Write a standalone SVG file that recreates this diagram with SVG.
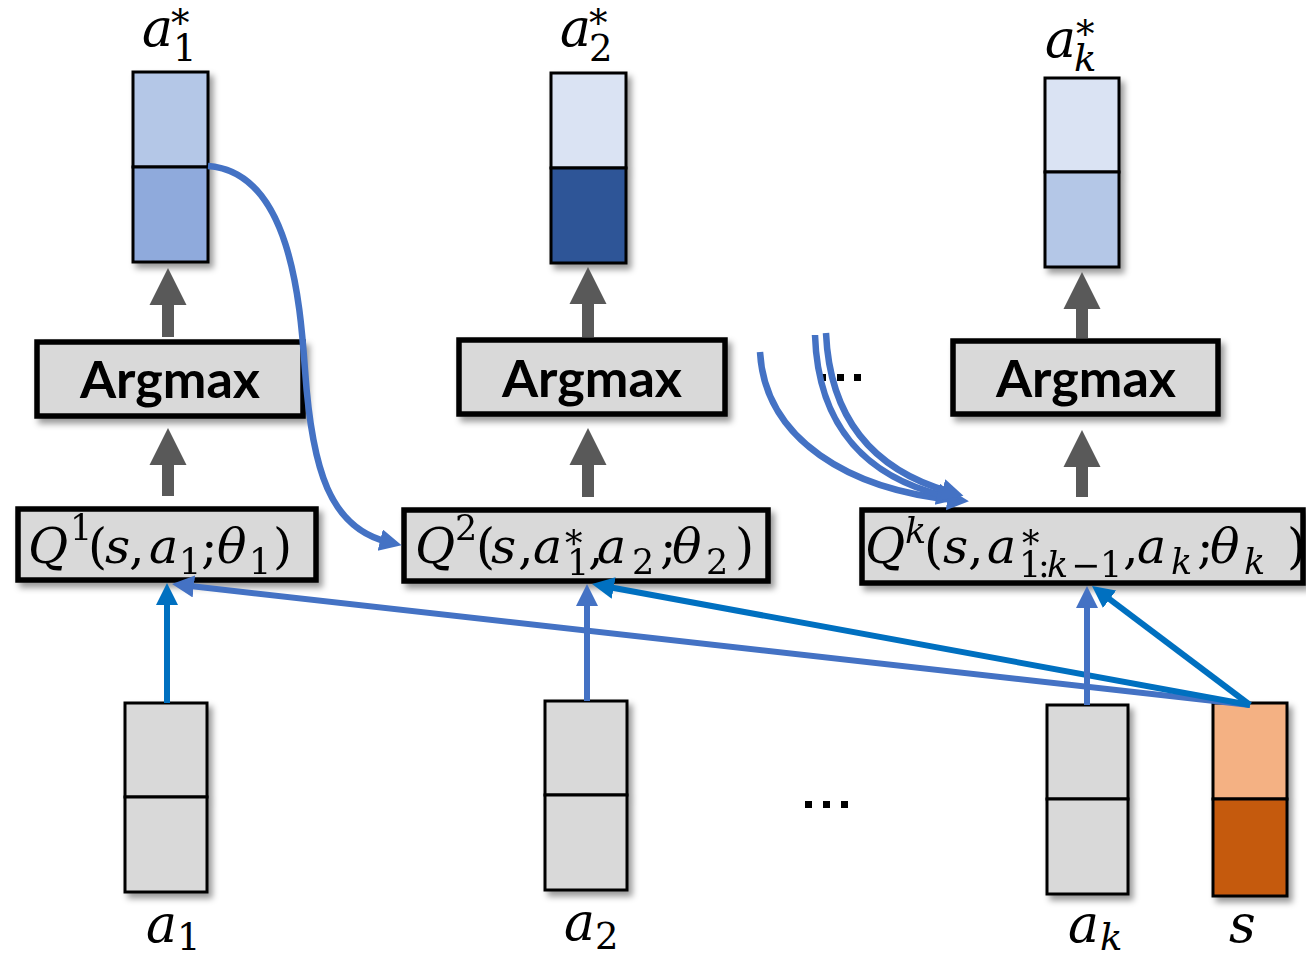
<svg xmlns="http://www.w3.org/2000/svg" width="1306" height="959" viewBox="0 0 1306 959">
<style>
.vec{stroke:#000;stroke-width:3}
.box{fill:#D9D9D9;stroke:#000;stroke-width:5.5}
.arg{font-family:Lato,"Liberation Sans",sans-serif;font-weight:700;font-size:52px;fill:#000;text-anchor:middle}
.m{font-family:"DejaVu Serif","Liberation Serif",serif;font-size:49px;fill:#000}
.lbl{font-family:"DejaVu Serif","Liberation Serif",serif;font-size:52px;fill:#000}
.i{font-style:italic}
.sc{font-size:35px}
.sl{font-size:37px}
.garrow{fill:#595959}
.c1{fill:none;stroke:#0070C0;stroke-width:6}
.c2{fill:none;stroke:#4472C4;stroke-width:6}
.cv{fill:none;stroke:#4472C4;stroke-width:6.5}
.dots{fill:#000}
</style>
<defs>
<filter id="sh" x="-20%" y="-20%" width="140%" height="150%">
<feDropShadow dx="4" dy="5" stdDeviation="3" flood-color="#000" flood-opacity="0.4"/>
</filter>
<marker id="hb" markerUnits="userSpaceOnUse" markerWidth="24" markerHeight="24" refX="8" refY="11" orient="auto">
<path d="M0,0 L22,11 L0,22 z" fill="#0070C0"/>
</marker>
<marker id="hm" markerUnits="userSpaceOnUse" markerWidth="24" markerHeight="24" refX="8" refY="11" orient="auto">
<path d="M0,0 L22,11 L0,22 z" fill="#4472C4"/>
</marker>
</defs>
<rect width="1306" height="959" fill="#fff"/>

<!-- Output vectors -->
<g id="out1" filter="url(#sh)">
<rect x="133" y="72" width="75" height="95" fill="#B4C7E7" class="vec"/>
<rect x="133" y="167" width="75" height="95" fill="#8FAADC" class="vec"/>
</g>
<g id="out2" filter="url(#sh)">
<rect x="551" y="73" width="75" height="95" fill="#DAE3F3" class="vec"/>
<rect x="551" y="168" width="75" height="95" fill="#2F5597" class="vec"/>
</g>
<g id="outk" filter="url(#sh)">
<rect x="1045" y="78" width="74" height="94" fill="#DAE3F3" class="vec"/>
<rect x="1045" y="172" width="74" height="95" fill="#B4C7E7" class="vec"/>
</g>

<!-- Output labels -->
<g id="lbl-a1star">
<text class="lbl"><tspan class="i" x="142" y="46">a</tspan><tspan class="sl" x="171" y="36">*</tspan><tspan class="sl" x="173" y="61">1</tspan></text>
</g>
<g id="lbl-a2star">
<text class="lbl"><tspan class="i" x="560" y="46">a</tspan><tspan class="sl" x="589" y="36">*</tspan><tspan class="sl" x="589" y="61">2</tspan></text>
</g>
<g id="lbl-akstar">
<text class="lbl"><tspan class="i" x="1045" y="57">a</tspan><tspan class="sl" x="1076" y="47">*</tspan><tspan class="sl i" x="1074" y="71">k</tspan></text>
</g>

<!-- Gray arrows -->
<g id="gray-arrows" class="garrow">
<polygon points="168,268 186.5,305 174,305 174,337 162,337 162,305 149.5,305"/>
<polygon points="168,428 186.5,465 174,465 174,496 162,496 162,465 149.5,465"/>
<polygon points="588,267 606.5,304 594,304 594,337 582,337 582,304 569.5,304"/>
<polygon points="588,428 606.5,465 594,465 594,497 582,497 582,465 569.5,465"/>
<polygon points="1082,272 1100.5,309 1088,309 1088,338 1076,338 1076,309 1063.5,309"/>
<polygon points="1082,430 1100.5,467 1088,467 1088,497 1076,497 1076,467 1063.5,467"/>
</g>

<!-- Argmax boxes -->
<g id="argmax1" filter="url(#sh)">
<rect x="37" y="342" width="266" height="74" class="box"/>
<text x="170" y="398" class="arg" textLength="180" lengthAdjust="spacingAndGlyphs">Argmax</text>
</g>
<g id="argmax2" filter="url(#sh)">
<rect x="459" y="340" width="266" height="74" class="box"/>
<text x="592" y="397" class="arg" textLength="180" lengthAdjust="spacingAndGlyphs">Argmax</text>
</g>
<g id="argmaxk" filter="url(#sh)">
<rect x="953" y="341" width="265" height="73" class="box"/>
<text x="1086" y="397" class="arg" textLength="180" lengthAdjust="spacingAndGlyphs">Argmax</text>
</g>

<!-- Ellipses -->
<g id="dots-top" class="dots">
<rect x="819" y="374" width="7" height="7"/>
<rect x="837" y="374" width="7" height="7"/>
<rect x="854" y="374" width="7" height="7"/>
</g>
<g id="dots-bottom" class="dots">
<rect x="805" y="801" width="7" height="7"/>
<rect x="823" y="801" width="7" height="7"/>
<rect x="841" y="801" width="7" height="7"/>
</g>

<!-- Q boxes -->
<g id="q1" filter="url(#sh)">
<rect x="18" y="509" width="298" height="71" class="box"/>
<text class="m"><tspan class="i" x="28" y="563">Q</tspan><tspan class="sc" x="70" y="540">1</tspan><tspan x="88" y="563">(</tspan><tspan class="i" x="105" y="563">s</tspan><tspan x="129" y="563">,</tspan><tspan class="i" x="149" y="563">a</tspan><tspan class="sc" x="179" y="574">1</tspan><tspan x="201" y="563">;</tspan><tspan class="i" x="217" y="563">θ</tspan><tspan class="sc" x="249" y="574">1</tspan><tspan x="273" y="563">)</tspan></text>
</g>
<g id="q2" filter="url(#sh)">
<rect x="404" y="510" width="364" height="71" class="box"/>
<text class="m"><tspan class="i" x="415" y="563">Q</tspan><tspan class="sc" x="455" y="540">2</tspan><tspan x="476" y="563">(</tspan><tspan class="i" x="491" y="563">s</tspan><tspan x="518" y="563">,</tspan><tspan class="i" x="533" y="563">a</tspan><tspan class="sc" x="565" y="556">*</tspan><tspan class="sc" x="567" y="575">1</tspan><tspan x="588" y="563">,</tspan><tspan class="i" x="597" y="563">a</tspan><tspan class="sc" x="632" y="574">2</tspan><tspan x="660" y="563">;</tspan><tspan class="i" x="672" y="563">θ</tspan><tspan class="sc" x="706" y="574">2</tspan><tspan x="735" y="563">)</tspan></text>
</g>
<g id="qk" filter="url(#sh)">
<rect x="862" y="510" width="441" height="73" class="box"/>
<text class="m"><tspan class="i" x="865" y="563">Q</tspan><tspan class="sc i" x="905" y="543">k</tspan><tspan x="924" y="563">(</tspan><tspan class="i" x="943" y="563">s</tspan><tspan x="968" y="563">,</tspan><tspan class="i" x="987" y="563">a</tspan><tspan class="sc" x="1022" y="556">*</tspan><tspan class="sc" x="1019" y="577">1</tspan><tspan class="sc" x="1038" y="577">:</tspan><tspan class="sc i" x="1047" y="577">k</tspan><tspan class="sc" x="1071" y="577">−</tspan><tspan class="sc" x="1100" y="577">1</tspan><tspan x="1123" y="563">,</tspan><tspan class="i" x="1137" y="563">a</tspan><tspan class="sc i" x="1171" y="574">k</tspan><tspan x="1197" y="563">;</tspan><tspan class="i" x="1210" y="563">θ</tspan><tspan class="sc i" x="1244" y="574">k</tspan><tspan x="1287" y="563">)</tspan></text>
</g>

<!-- Input vectors -->
<g id="in-a1" filter="url(#sh)">
<rect x="125" y="703" width="82" height="94" fill="#D9D9D9" class="vec"/>
<rect x="125" y="797" width="82" height="95" fill="#D9D9D9" class="vec"/>
</g>
<g id="in-a2" filter="url(#sh)">
<rect x="545" y="701" width="82" height="94" fill="#D9D9D9" class="vec"/>
<rect x="545" y="795" width="82" height="95" fill="#D9D9D9" class="vec"/>
</g>
<g id="in-ak" filter="url(#sh)">
<rect x="1047" y="705" width="81" height="94" fill="#D9D9D9" class="vec"/>
<rect x="1047" y="799" width="81" height="95" fill="#D9D9D9" class="vec"/>
</g>
<g id="in-s" filter="url(#sh)">
<rect x="1213" y="703" width="74" height="96" fill="#F4B183" class="vec"/>
<rect x="1213" y="799" width="74" height="97" fill="#C55A11" class="vec"/>
</g>

<!-- Input labels -->
<g id="lbl-a1"><text class="lbl"><tspan class="i" x="146" y="942">a</tspan><tspan class="sl" x="177" y="950">1</tspan></text></g>
<g id="lbl-a2"><text class="lbl"><tspan class="i" x="564" y="940">a</tspan><tspan class="sl" x="595" y="949">2</tspan></text></g>
<g id="lbl-ak"><text class="lbl"><tspan class="i" x="1068" y="942">a</tspan><tspan class="sl i" x="1100" y="950">k</tspan></text></g>
<g id="lbl-s"><text class="lbl"><tspan class="i" x="1229" y="942">s</tspan></text></g>

<!-- Connectors -->
<g id="connectors">
<path class="c2" d="M1250,705 L185.9,585.6" marker-end="url(#hm)"/>
<path class="c1" d="M1250,705 L605.8,586.5" marker-end="url(#hb)"/>
<path class="c1" d="M1250,705 L1103.2,594.4" marker-end="url(#hb)"/>
<path class="c1" d="M167,703 L167,597" marker-end="url(#hb)"/>
<path class="c2" d="M587,701 L587,598" marker-end="url(#hm)"/>
<path class="c2" d="M1087,705 L1087,600" marker-end="url(#hm)"/>
<path class="cv" d="M208,166 C290,172 300,300 305,370 C312,470 330,528 388,542" marker-end="url(#hm)"/>
<path class="cv" d="M760,352 C765,440 850,490 955,500" marker-end="url(#hm)"/>
<path class="cv" d="M815,335 C818,430 870,478 945,496" marker-end="url(#hm)"/>
<path class="cv" d="M826,333 C830,425 880,472 950,492" marker-end="url(#hm)"/>
</g>
</svg>
